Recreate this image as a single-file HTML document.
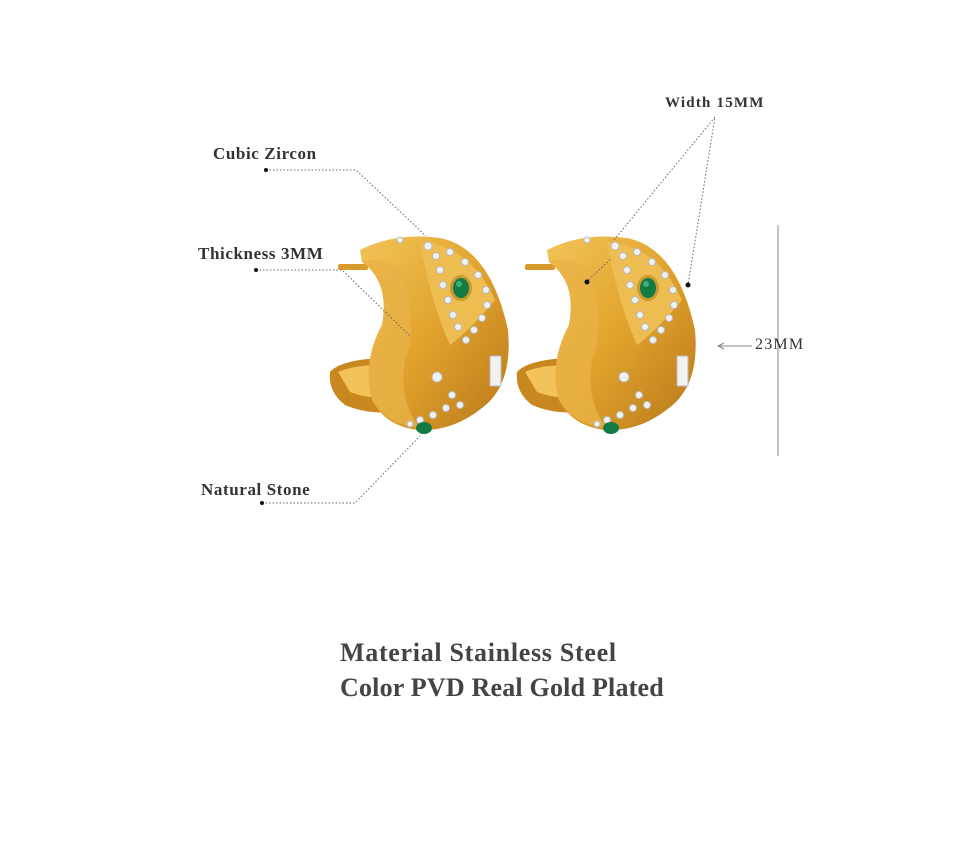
<!DOCTYPE html>
<html><head><meta charset="utf-8"><style>
html,body{margin:0;padding:0;background:#fff}
body{width:960px;height:868px;position:relative;overflow:hidden;font-family:"Liberation Serif",serif}
.l{position:absolute;font-size:17px;color:#333;white-space:nowrap;font-weight:bold;letter-spacing:0.6px}
.big{position:absolute;font-size:26px;color:#444;font-weight:bold;white-space:nowrap;left:340px;letter-spacing:0.6px}
</style></head><body>
<svg width="960" height="868" style="position:absolute;left:0;top:0">
<defs>
<linearGradient id="g" x1="0" y1="0" x2="1" y2="1">
<stop offset="0" stop-color="#f2c457"/><stop offset="0.5" stop-color="#e0a22c"/><stop offset="1" stop-color="#b9781a"/></linearGradient>
<g id="ear">
<path d="M330,372 Q345,355 420,358 L425,405 Q380,420 345,405 Q328,392 330,372Z" fill="#c9871f"/>
<path d="M338,372 Q360,362 410,366 L412,395 Q375,402 350,392 Z" fill="#f1c35a"/>
<rect x="338" y="264" width="30" height="6" rx="2" fill="#d89a2a"/>
<path d="M360,250 Q395,232 440,238 Q490,248 508,330 Q513,385 482,408 Q452,432 418,430 Q385,426 372,400 Q362,362 382,325 Q390,282 362,262Z" fill="url(#g)"/>
<path d="M372,400 Q362,362 382,325 Q390,282 362,262 Q385,255 400,270 Q420,320 405,360 Q398,400 420,428 Q388,426 372,400Z" fill="#e8b146" opacity="0.8"/>
<path d="M420,242 Q470,245 495,300 Q470,330 450,345 Q430,300 420,242Z" fill="#edbd52"/>
<ellipse cx="461" cy="288" rx="11" ry="13" fill="#c89a30"/>
<ellipse cx="461" cy="288" rx="8" ry="10" fill="#117a45"/>
<ellipse cx="459" cy="284" rx="3" ry="3" fill="#3fb07a"/>
<g fill="#f1f1f1" stroke="#b8bcc0" stroke-width="1">
<circle cx="428" cy="246" r="4"/><circle cx="436" cy="256" r="3.5"/><circle cx="450" cy="252" r="3.5"/><circle cx="465" cy="262" r="3.5"/>
<circle cx="478" cy="275" r="3.5"/><circle cx="486" cy="290" r="3.5"/><circle cx="487" cy="305" r="3.5"/><circle cx="482" cy="318" r="3.5"/>
<circle cx="474" cy="330" r="3.5"/><circle cx="466" cy="340" r="3.5"/><circle cx="440" cy="270" r="3.5"/><circle cx="443" cy="285" r="3.5"/>
<circle cx="448" cy="300" r="3.5"/><circle cx="453" cy="315" r="3.5"/><circle cx="458" cy="327" r="3.5"/>
<circle cx="437" cy="377" r="5"/><circle cx="452" cy="395" r="3.5"/><circle cx="460" cy="405" r="3.5"/><circle cx="446" cy="408" r="3.5"/>
<circle cx="433" cy="415" r="3.5"/><circle cx="420" cy="420" r="3.5"/><circle cx="410" cy="424" r="3"/>
<circle cx="400" cy="240" r="3"/>
<rect x="490" y="356" width="11" height="30" rx="1"/>
</g>
<ellipse cx="424" cy="428" rx="8" ry="6" fill="#117a45"/>
</g>
</defs>
<use href="#ear"/>
<use href="#ear" transform="translate(187,0)"/>
<g stroke="#666" stroke-width="1" stroke-dasharray="1.5,2" fill="none">
<polyline points="266,170 356,170 426,236"/>
<polyline points="256,270 342,270 410,336"/>
<polyline points="262,503 355,503 420,436"/>
<polyline points="614,240 715,117 688,285"/>
<line x1="586" y1="282" x2="612" y2="258"/>
</g>
<g fill="#111">
<circle cx="266" cy="170" r="2"/><circle cx="256" cy="270" r="2"/><circle cx="262" cy="503" r="2"/>
<circle cx="587" cy="282" r="2.5"/><circle cx="688" cy="285" r="2.5"/>
</g>
<g stroke="#888" stroke-width="1">
<line x1="778" y1="225" x2="778" y2="456"/>
<line x1="718" y1="346" x2="752" y2="346"/>
<polyline points="724,343 718,346 724,349" fill="none"/>
</g>
</svg>
<div class="l" style="left:213px;top:144px">Cubic Zircon</div>
<div class="l" style="left:198px;top:244px">Thickness 3MM</div>
<div class="l" style="left:201px;top:480px">Natural Stone</div>
<div class="l" style="left:665px;top:95px;font-size:15px;letter-spacing:1.2px">Width 15MM</div>
<div class="l" style="left:755px;top:336px;font-size:16px;font-weight:normal;letter-spacing:1.2px">23MM</div>
<div class="big" style="top:638px;letter-spacing:0.7px">Material Stainless Steel</div>
<div class="big" style="top:673px;letter-spacing:0.2px">Color PVD Real Gold Plated</div>
</body></html>
